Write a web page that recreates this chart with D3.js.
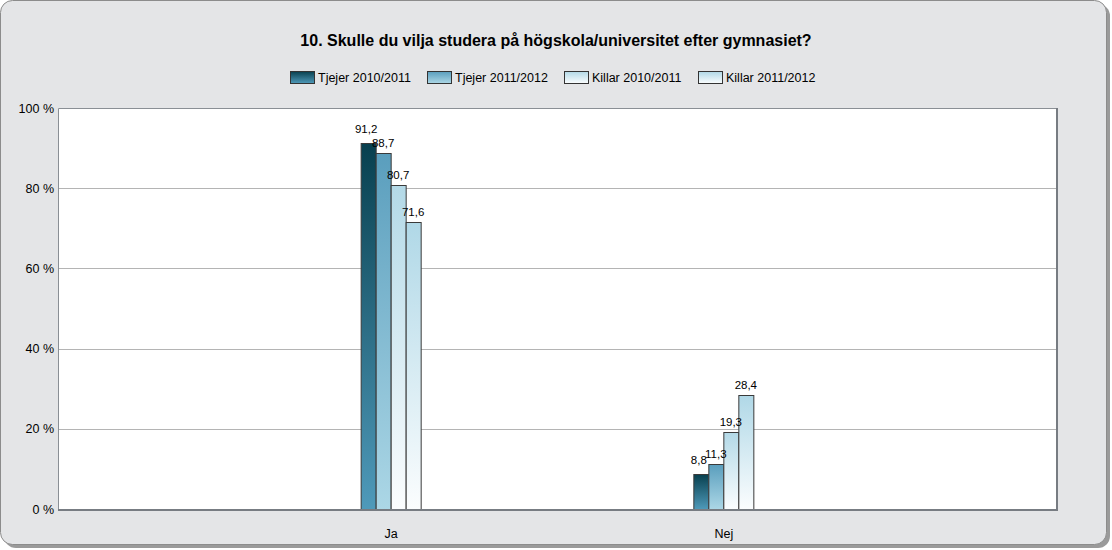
<!DOCTYPE html>
<html>
<head>
<meta charset="utf-8">
<script src="https://cdn.jsdelivr.net/npm/d3@7"></script>
<style>
body { margin: 0; background: #fff; }
text { font-family: "Liberation Sans", Arial, sans-serif; }
</style>
</head>
<body>
<script>
var categories = ['Ja', 'Nej'];
var series = ['Tjejer 2010/2011', 'Tjejer 2011/2012', 'Killar 2010/2011', 'Killar 2011/2012'];
var tjejer1011 = [91.2, 8.8];
var tjejer1112 = [88.7, 11.3];
var killar1011 = [80.7, 19.3];
var killar1112 = [71.6, 28.4];
var yTicks = [0, 20, 40, 60, 80, 100];
var values = [tjejer1011, tjejer1112, killar1011, killar1112];

// gradient colours per series: top, bottom
var grads = [['#08404f', '#4f9aba'], ['#5a9ebd', '#acd7e6'], ['#b3d9e7', '#fbfdfe'], ['#b0d8e7', '#fbfdfe']];

var W = 1112, H = 550;
var svg = d3.select('body').append('svg').attr('width', W).attr('height', H);
var defs = svg.append('defs');

grads.forEach(function (g, i) {
    var lg = defs.append('linearGradient').attr('id', 'g' + i)
        .attr('x1', 0).attr('y1', 0).attr('x2', 0).attr('y2', 1);
    lg.append('stop').attr('offset', '0%').attr('stop-color', g[0]);
    lg.append('stop').attr('offset', '100%').attr('stop-color', g[1]);
});

// frame with shadow
svg.append('rect').attr('x', 4).attr('y', 4).attr('width', 1106).attr('height', 544)
    .attr('rx', 12).attr('fill', '#9a9a9a');
svg.append('rect').attr('x', 0.5).attr('y', 0.5).attr('width', 1106).attr('height', 544)
    .attr('rx', 12).attr('fill', '#e4e5e7').attr('stroke', '#8c8c8c');

// title
svg.append('text').attr('x', 556).attr('y', 46).attr('text-anchor', 'middle')
    .attr('font-size', 16).attr('font-weight', 'bold').attr('fill', '#000')
    .text('10. Skulle du vilja studera på högskola/universitet efter gymnasiet?');

// legend
var legX = [290, 427, 564, 698];
var leg = svg.append('g');
series.forEach(function (s, i) {
    leg.append('rect').attr('x', legX[i] + 0.5).attr('y', 71.5).attr('width', 24).attr('height', 12)
        .attr('fill', 'url(#g' + i + ')').attr('stroke', '#333');
    leg.append('text').attr('x', legX[i] + 28).attr('y', 82).attr('font-size', 12.5)
        .attr('fill', '#000').text(s);
});

var plot = { l: 58, t: 108, r: 1056, b: 509 };
var x = d3.scalePoint().domain(categories).range([plot.l, plot.r]).padding(1);
var y = d3.scaleLinear().domain([0, 100]).range([plot.b, plot.t]);
var barW = 15;
var xs = d3.scaleBand().domain(series).range([-2 * barW, 2 * barW]);

// plot background
svg.append('rect').attr('x', plot.l).attr('y', plot.t).attr('width', plot.r - plot.l).attr('height', plot.b - plot.t)
    .attr('fill', '#fff');

// gridlines
svg.append('g').selectAll('line').data(yTicks.slice(1, -1)).join('line')
    .attr('x1', plot.l).attr('x2', plot.r)
    .attr('y1', function (d) { return Math.round(y(d)) + 0.5; })
    .attr('y2', function (d) { return Math.round(y(d)) + 0.5; })
    .attr('stroke', '#b4b4b4');

// y axis
var yAxis = d3.axisLeft(y).tickValues(yTicks).tickSize(0).tickPadding(4)
    .tickFormat(function (d) { return d + ' %'; });
var ya = svg.append('g').attr('transform', 'translate(' + plot.l + ',0)').call(yAxis);
ya.select('.domain').remove();
ya.selectAll('text').attr('font-size', 12.5).attr('fill', '#000')
    .style('font-family', '"Liberation Sans", Arial, sans-serif');

// x axis labels
var xAxis = d3.axisBottom(x).tickSize(0).tickPadding(20);
var xa = svg.append('g').attr('transform', 'translate(0,' + plot.b + ')').call(xAxis);
xa.select('.domain').remove();
xa.selectAll('text').attr('font-size', 12.5).attr('fill', '#000')
    .style('font-family', '"Liberation Sans", Arial, sans-serif');

// bars
var bars = svg.append('g');
series.forEach(function (s, i) {
    bars.selectAll('.b' + i).data(values[i]).join('rect')
        .attr('class', 'b' + i)
        .attr('x', function (d, j) { return x(categories[j]) + xs(s) + 0.5; })
        .attr('y', function (d) { return Math.round(y(d)) + 0.5; })
        .attr('width', barW)
        .attr('height', function (d) { return plot.b - Math.round(y(d)); })
        .attr('fill', 'url(#g' + i + ')')
        .attr('stroke', '#3a3a3a');
});

// value labels (first series nudged up/left so neighbours don't collide)
var labs = svg.append('g');
series.forEach(function (s, i) {
    labs.selectAll('.l' + i).data(values[i]).join('text')
        .attr('class', 'l' + i)
        .attr('x', function (d, j) { return x(categories[j]) + xs(s) + barW / 2 - (i === 0 ? 2 : 0); })
        .attr('y', function (d) { return y(d) - (i === 0 ? 10 : 6); })
        .attr('text-anchor', 'middle').attr('font-size', 11.5).attr('fill', '#000')
        .text(function (d) { return String(d).replace('.', ','); });
});

// plot border: thin left/top, heavier right/bottom
svg.append('path')
    .attr('d', 'M' + (plot.l + 0.5) + ',' + plot.b + 'V' + (plot.t + 0.5) + 'H' + plot.r)
    .attr('fill', 'none').attr('stroke', '#8a8f95');
svg.append('path')
    .attr('d', 'M' + plot.l + ',' + (plot.b + 1) + 'H' + (plot.r + 1) + 'V' + plot.t)
    .attr('fill', 'none').attr('stroke', '#777c82').attr('stroke-width', 2);
</script>
</body>
</html>
